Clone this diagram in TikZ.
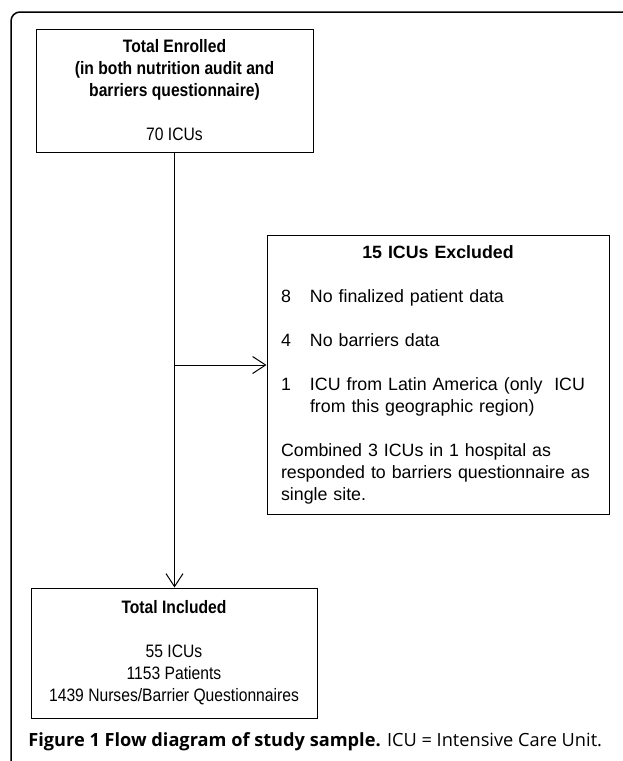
\documentclass[tikz,border=0pt]{standalone}
\usepackage{fontspec}
\setmainfont{Liberation Sans}
\newfontfamily\narrowfont[FakeStretch=0.87]{Liberation Sans}
\newfontfamily\capfont{Open Sans}
\usetikzlibrary{arrows.meta, positioning, calc}
\newcommand{\Num}[1]{\makebox[14.5pt][l]{#1}}
\tikzset{
    box/.style={draw, line width=0.5pt, inner sep=0pt, align=center,
      font=\fontsize{8.9}{11}\selectfont},
    narrowbox/.style={box, font=\narrowfont\fontsize{9}{11}\selectfont},
    flow/.style={line width=0.5pt, -{Straight Barb[length=6.5pt, width=8.5pt, line width=0.5pt]}},
    frame/.style={line width=0.75pt, rounded corners=4.5pt},
}
\begin{document}
\begin{tikzpicture}[x=0.5pt, y=-0.5pt]
    \useasboundingbox (0,0) rectangle (622,761);

    % panel frame
    \draw[frame] (11,764) -- (11,12) -- (630,12);

    \node[narrowbox, minimum width=138.5pt, minimum height=61.5pt] (enrolled) at (174.5,90.5)
      {\textbf{Total Enrolled}\\\textbf{(in both nutrition audit and}\\\textbf{barriers questionnaire)}\\[11pt]70 ICUs};

    \node[box, minimum width=171pt, minimum height=139.5pt, text width=157pt, align=left] (excluded) at (438,374.5)
      {\makebox[157pt]{\textbf{15 ICUs Excluded}}\\[11pt]
       \Num{8}No finalized patient data\\[11pt]
       \Num{4}No barriers data\\[11pt]
       \Num{1}ICU from Latin America (only\ \ ICU\\
       \Num{}from this geographic region)\\[11pt]
       Combined 3 ICUs in 1 hospital as\\
       responded to barriers questionnaire as\\
       single site.};

    \node[narrowbox, minimum width=143pt, minimum height=65pt] (included) at (174,653)
      {\textbf{Total Included}\\[11pt]55 ICUs\\1153 Patients\\1439 Nurses/Barrier Questionnaires};

    \coordinate (branch) at (174.5,365);

    \draw[flow] (enrolled.south) -- (enrolled.south |- included.north);
    \draw[flow] (branch) -- (branch -| excluded.west);

    \node[anchor=west, inner sep=0pt, font=\capfont\fontsize{9.1}{11}\selectfont] (caption) at (28,742)
      {\textbf{Figure 1 Flow diagram of study sample.} ICU = Intensive Care Unit.};
\end{tikzpicture}
\end{document}
